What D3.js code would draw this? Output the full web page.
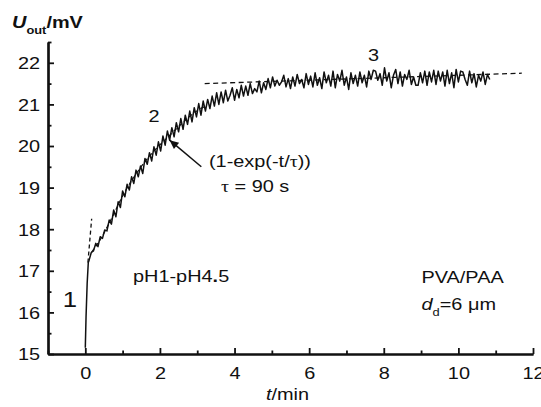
<!DOCTYPE html>
<html><head><meta charset="utf-8">
<script src="https://cdn.jsdelivr.net/npm/d3@7"></script>
<style>
html,body{margin:0;padding:0;background:#fff;}
text{font-family:"Liberation Sans",Arial,sans-serif;fill:#111;}
</style></head>
<body><svg id="c" width="541" height="407"></svg>
<script>
// ---- data ----
const riseTimes = [0, 0.02, 0.05, 0.08];
const riseVolts = [15.15, 15.9, 16.7, 17.2];
const traceStart = 0.10, traceStep = 0.06; // min, uniform sampling
const traceVolts = [
 17.25,17.44,17.48,17.66,17.58,17.82,17.78,17.98,17.96,18.22,
 18.12,18.46,18.30,18.66,18.52,18.92,18.78,19.08,18.94,19.26,
 19.10,19.42,19.26,19.52,19.34,19.70,19.56,19.84,19.64,19.98,
 19.78,20.10,19.88,20.24,20.02,20.36,20.14,20.44,20.22,20.56,
 20.34,20.66,20.40,20.74,20.52,20.84,20.58,20.92,20.70,21.02,
 20.74,21.08,20.84,21.12,20.90,21.20,20.96,21.28,21.00,21.30,
 21.04,21.34,21.08,21.22,21.40,21.10,21.36,21.16,21.46,21.20,
 21.44,21.22,21.50,21.26,21.38,21.30,21.56,21.28,21.52,21.36,
 21.62,21.40,21.66,21.44,21.58,21.46,21.54,21.70,21.42,21.62,
 21.38,21.66,21.44,21.72,21.50,21.60,21.40,21.74,21.48,21.68,
 21.42,21.76,21.46,21.64,21.38,21.78,21.52,21.70,21.44,21.80,
 21.40,21.72,21.56,21.82,21.46,21.66,21.36,21.76,21.50,21.70,
 21.44,21.78,21.52,21.70,21.42,21.80,21.60,21.82,21.80,21.58,
 21.74,21.46,21.88,21.56,21.76,21.40,21.70,21.84,21.50,21.78,
 21.44,21.72,21.60,21.82,21.48,21.66,21.46,21.46,21.76,21.52,
 21.80,21.46,21.78,21.54,21.82,21.48,21.80,21.56,21.78,21.44,
 21.82,21.50,21.76,21.40,21.84,21.54,21.80,21.78,21.60,21.46,
 21.80,21.52,21.74,21.42,21.70,21.56,21.78,21.48,21.72,21.60
];
const fastFitT = [0.07, 0.17];
const fastFitU = [17.2, 18.25];
const expFitT = [0.17, 0.4, 0.7, 1.0, 1.4, 1.8, 2.2, 2.6, 3.0, 3.2];
const expFitU = [17.45, 17.75, 18.25, 18.8, 19.38, 19.84, 20.2, 20.55, 20.85, 20.95];
const plateauFitT = [3.2, 11.7];
const plateauFitU = [21.5, 21.75];
const xMajorTicks = [0, 2, 4, 6, 8, 10, 12];
const xMinorTicks = [-1, 1, 3, 5, 7, 9, 11];
const yMajorTicks = [15, 16, 17, 18, 19, 20, 21, 22];
const yMinorTicks = [15.5, 16.5, 17.5, 18.5, 19.5, 20.5, 21.5, 22.5];
const arrowFrom = [3.11, 19.50], arrowTo = [2.26, 20.14];

// ---- drawing ----
const SX = 1.17;
const svg = d3.select("#c");
const x = d3.scaleLinear().domain([-1, 12]).range([48, 533]);
const y = d3.scaleLinear().domain([15, 22.5]).range([354, 42]);

const defs = svg.append("defs");
defs.append("marker").attr("id","ah").attr("viewBox","0 0 10 10")
  .attr("refX",10).attr("refY",5).attr("markerWidth",11).attr("markerHeight",9)
  .attr("markerUnits","userSpaceOnUse").attr("orient","auto")
  .append("path").attr("d","M0,0.5 L10,5 L0,9.5 Z").attr("fill","#111");

// axes
const gx = svg.append("g").attr("transform","translate(0,354)")
  .call(d3.axisBottom(x).tickValues(xMajorTicks).tickSize(-6).tickSizeOuter(0).tickPadding(0).tickFormat(d3.format("d")));
const gxm = svg.append("g").attr("transform","translate(0,354)")
  .call(d3.axisBottom(x).tickValues(xMinorTicks).tickSize(-3.5).tickSizeOuter(0).tickFormat(""));
const gy = svg.append("g").attr("transform","translate(48,0)")
  .call(d3.axisLeft(y).tickValues(yMajorTicks).tickSize(-6).tickSizeOuter(0).tickFormat(d3.format("d")));
const gym = svg.append("g").attr("transform","translate(48,0)")
  .call(d3.axisLeft(y).tickValues(yMinorTicks).tickSize(-3.5).tickSizeOuter(0).tickFormat(""));
[gx,gxm,gy,gym].forEach(g=>{
  g.select(".domain").attr("stroke","#111").attr("stroke-width",2.2);
  g.selectAll(".tick line").attr("stroke","#111").attr("stroke-width",1.8);
  g.attr("font-size",null).attr("font-family",null);
});
gx.selectAll(".tick text").attr("y",25).attr("dy",null)
  .attr("font-size",17).attr("transform",`scale(${SX},1)`);
gy.selectAll(".tick text").attr("x",-8/SX).attr("dy","0.35em")
  .attr("font-size",17).attr("transform",`scale(${SX},1)`);

// lines
const line = d3.line().x(d=>x(d[0])).y(d=>y(d[1]));
const zip = (a,b)=>a.map((v,i)=>[v,b[i]]);
svg.append("path").datum(zip(expFitT,expFitU)).attr("d",line.curve(d3.curveMonotoneX))
  .attr("fill","none").attr("stroke","#111").attr("stroke-width",1.2).attr("stroke-dasharray","4,3");
line.curve(d3.curveLinear);
svg.append("path").datum(zip(fastFitT,fastFitU)).attr("d",line)
  .attr("fill","none").attr("stroke","#111").attr("stroke-width",1.3).attr("stroke-dasharray","4,3");
svg.append("path").datum(zip(plateauFitT,plateauFitU)).attr("d",line)
  .attr("fill","none").attr("stroke","#111").attr("stroke-width",1.3).attr("stroke-dasharray","5,3.5");
const trace = zip(riseTimes,riseVolts).concat(traceVolts.map((v,i)=>[traceStart+traceStep*i, v]));
svg.append("path").datum(trace).attr("d",line)
  .attr("fill","none").attr("stroke","#111").attr("stroke-width",1.5).attr("stroke-linejoin","round");

// arrow
svg.append("line").attr("x1",x(arrowFrom[0])).attr("y1",y(arrowFrom[1]))
  .attr("x2",x(arrowTo[0])).attr("y2",y(arrowTo[1]))
  .attr("stroke","#111").attr("stroke-width",1.5).attr("marker-end","url(#ah)");

// text helper
function label(px, py, size, anchor, parts){
  const g = svg.append("g").attr("transform",`translate(${px},${py}) scale(${SX},1)`);
  const t = g.append("text").attr("font-size",size).attr("text-anchor",anchor);
  parts.forEach(p=>{
    const s = t.append("tspan").text(p.t);
    if(p.b) s.attr("font-weight","bold");
    if(p.i) s.attr("font-style","italic");
    if(p.f) s.attr("font-family",p.f);
    if(p.s) s.attr("font-size",p.s);
    if(p.dy) s.attr("dy",p.dy);
  });
  return t;
}
label(12, 28, 17, "start", [{t:"U",b:1,i:1},{t:"out",b:1,s:11,dy:6},{t:"/mV",b:1,dy:-6}]);
label(266, 400, 17, "start", [{t:"t",i:1},{t:"/min"}]);
label(70, 307, 22, "middle", [{t:"1"}]);
label(154, 122, 17, "middle", [{t:"2"}]);
label(373.5, 60.5, 17, "middle", [{t:"3"}]);
label(209, 167, 17, "start", [{t:"(1-exp(-t/"},{t:"τ",f:"Liberation Serif"},{t:"))"}]);
label(221, 192, 17, "start", [{t:"τ",f:"Liberation Serif"},{t:" = 90 s"}]);
label(133, 282, 17, "start", [{t:"pH1-pH4"},{t:".",b:1},{t:"5"}]);
label(421.5, 283, 17, "start", [{t:"PVA/PAA"}]);
label(421.5, 310, 17, "start", [{t:"d",i:1},{t:"d",s:11,dy:6},{t:"=6 μm",dy:-6}]);
</script></body></html>
